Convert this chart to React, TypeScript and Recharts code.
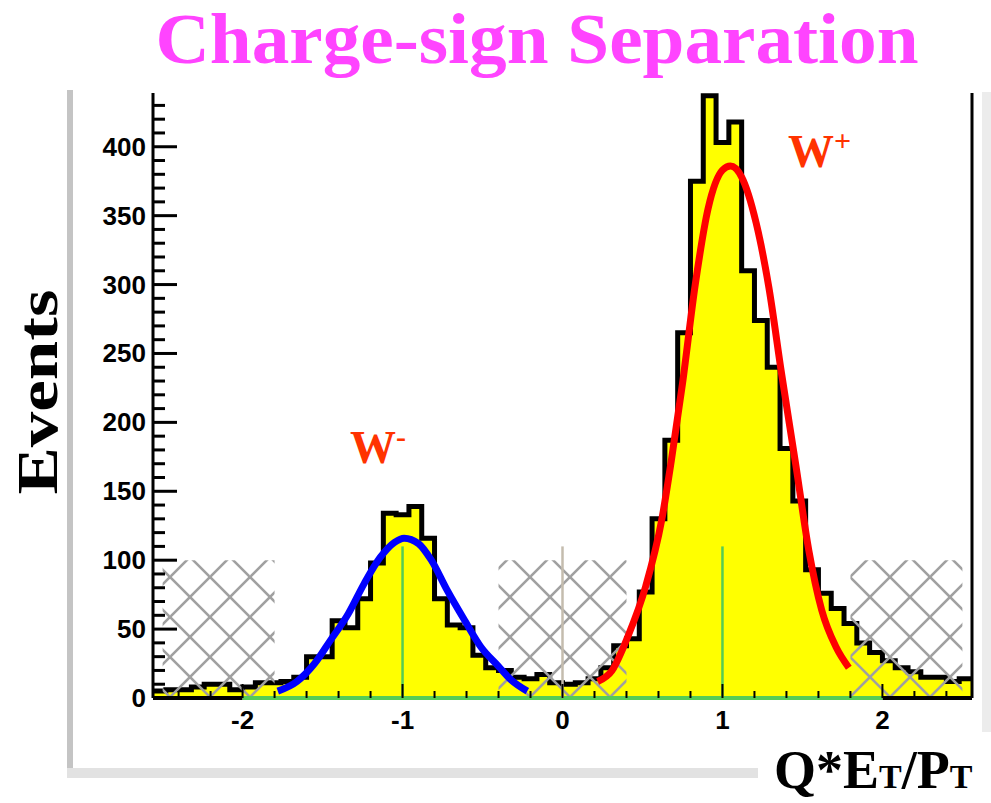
import React from "react"
import { ComposedChart, Area, Line, XAxis, YAxis, ReferenceArea, ReferenceLine } from "recharts"

// histogram: 64 bins of 0.08 starting at -2.56
const binLow = -2.56
const binWidth = 0.08
const counts = [
  5, 6, 6, 8, 10, 10, 6, 8, 11, 11, 12, 15, 30, 30, 56, 51,
  72, 98, 134, 133, 139, 116, 72, 53, 51, 31, 22, 20, 15, 14, 17, 11,
  10, 11, 14, 22, 38, 43, 77, 130, 187, 265, 375, 437, 403, 418, 310, 274,
  240, 181, 143, 93, 76, 65, 54, 40, 33, 27, 22, 19, 15, 15, 12, 14,
]

// gaussian fits, points
const wMinusFitX = [-1.78, -1.66, -1.55, -1.45, -1.34, -1.24, -1.14, -1.05, -0.99, -0.9, -0.82, -0.72, -0.61, -0.51, -0.4, -0.32, -0.22]
const wMinusFitY = [5, 12, 25, 42, 61, 83, 102, 113, 116, 112, 100, 78, 56, 37, 23, 13, 5]
const wPlusFitX = [0.22, 0.31, 0.41, 0.52, 0.62, 0.68, 0.75, 0.83, 0.91, 1.0, 1.05, 1.12, 1.21, 1.29, 1.37, 1.46, 1.54, 1.62, 1.71, 1.79]
const wPlusFitY = [12, 20, 45, 81, 129, 172, 228, 300, 355, 383, 386, 378, 345, 298, 235, 168, 107, 64, 37, 22]

const xTicks = [-2.4, -2.2, -2, -1.8, -1.6, -1.4, -1.2, -1, -0.8, -0.6, -0.4, -0.2, 0, 0.2, 0.4, 0.6, 0.8, 1, 1.2, 1.4, 1.6, 1.8, 2, 2.2, 2.4]
const yTicks = [0, 10, 20, 30, 40, 50, 60, 70, 80, 90, 100, 110, 120, 130, 140, 150, 160, 170, 180, 190, 200, 210, 220, 230, 240, 250, 260, 270, 280, 290, 300, 310, 320, 330, 340, 350, 360, 370, 380, 390, 400, 410, 420, 430]

// excluded (hatched) regions and marker lines
const vetoLow = [-2.5, -0.4, 1.8]
const vetoHigh = [-1.8, 0.4, 2.5]
const vetoTop = 100
const peakMarks = [-1, 1]
const markTop = 110

const histData = counts.map((c, i) => ({ x: +(binLow + i * binWidth).toFixed(2), y: c }))
histData.push({ x: 2.56, y: counts[counts.length - 1] })
const wMinusData = wMinusFitX.map((x, i) => ({ x, y: wMinusFitY[i] }))
const wPlusData = wPlusFitX.map((x, i) => ({ x, y: wPlusFitY[i] }))

const sans = "'Liberation Sans', Arial, sans-serif"
const serif = "'Liberation Serif', 'Times New Roman', serif"

function YTick(props: any) {
  const { x, y, payload } = props
  const v = payload.value
  const major = v % 50 === 0
  return (
    <g>
      <line x1={x} x2={x + (major ? 24 : 12)} y1={y} y2={y} stroke="#000" strokeWidth={3} />
      {major && (
        <text x={x - 7} y={y + 9} textAnchor="end" fontFamily={sans} fontWeight="bold" fontSize={26} fill="#000">
          {v}
        </text>
      )}
    </g>
  )
}

function XTick(props: any) {
  const { x, y, payload } = props
  const v = payload.value
  const major = Number.isInteger(v)
  return (
    <g>
      <line x1={x} x2={x} y1={y} y2={y - (major ? 14 : 7)} stroke="#000" strokeWidth={2} />
      {major && (
        <text x={x} y={y + 31} textAnchor="middle" fontFamily={sans} fontWeight="bold" fontSize={26} fill="#000">
          {v}
        </text>
      )}
    </g>
  )
}

export default function App() {
  return (
    <div style={{ position: "absolute", left: 0, top: 0, width: 991, height: 803, background: "#fff" }}>
      <div style={{ position: "absolute", left: 67, top: 90, width: 6, height: 688, background: "#c4c4c4" }} />
      <div style={{ position: "absolute", left: 67, top: 768, width: 691, height: 10, background: "#e2e2e2" }} />
      <div style={{ position: "absolute", left: 982, top: 92, width: 9, height: 640, background: "#ececec" }} />
      <div style={{ position: "absolute", left: 0, top: 0 }}>
        <ComposedChart width={991} height={803} margin={{ top: 93, right: 19, bottom: 0, left: 0 }}>
          <defs>
            <pattern id="xhatch" patternUnits="userSpaceOnUse" x={10} y={17} width={40} height={40}>
              <line x1={0} y1={0} x2={40} y2={40} stroke="#a0a0a0" strokeWidth={2.6} />
              <line x1={40} y1={0} x2={0} y2={40} stroke="#a0a0a0" strokeWidth={2.6} />
            </pattern>
          </defs>
          <XAxis
            type="number"
            dataKey="x"
            domain={[-2.56, 2.56]}
            ticks={xTicks}
            interval={0}
            height={105}
            tickSize={0}
            tickMargin={0}
            tick={<XTick />}
            axisLine={false}
            allowDataOverflow
          />
          <YAxis
            type="number"
            domain={[0, 439]}
            ticks={yTicks}
            interval={0}
            width={153}
            tickSize={0}
            tickMargin={0}
            tick={<YTick />}
            axisLine={{ stroke: "#000", strokeWidth: 3 }}
            allowDataOverflow
          />
          <Area
            data={histData}
            dataKey="y"
            type="stepAfter"
            stroke="#000"
            strokeWidth={5}
            fill="#ffff00"
            fillOpacity={1}
            isAnimationActive={false}
          />
          {vetoLow.map((lo, i) => (
            <ReferenceArea key={"veto" + i} x1={lo} x2={vetoHigh[i]} y1={0} y2={vetoTop} fill="url(#xhatch)" fillOpacity={1} stroke="none" />
          ))}
          <ReferenceLine segment={[{ x: -2.56, y: 0 }, { x: -2, y: 0 }]} stroke="#000" strokeWidth={4} />
          <ReferenceLine segment={[{ x: 2, y: 0 }, { x: 2.56, y: 0 }]} stroke="#000" strokeWidth={4} />
          <ReferenceLine segment={[{ x: -2, y: 0 }, { x: 2, y: 0 }]} stroke="#55cc55" strokeWidth={4} />
          {peakMarks.map((m) => (
            <ReferenceLine key={"mark" + m} segment={[{ x: m, y: 0 }, { x: m, y: markTop }]} stroke="#55cc55" strokeWidth={2.5} />
          ))}
          <ReferenceLine segment={[{ x: 0, y: 0 }, { x: 0, y: markTop }]} stroke="#c4bcae" strokeWidth={2.5} />
          <ReferenceLine x={2.56} stroke="#000" strokeWidth={3} />
          <Line data={wMinusData} dataKey="y" type="monotone" stroke="#0000ff" strokeWidth={7} dot={false} isAnimationActive={false} />
          <Line data={wPlusData} dataKey="y" type="monotone" stroke="#ff0000" strokeWidth={7} dot={false} isAnimationActive={false} />
        </ComposedChart>
      </div>
      <svg width={991} height={803} style={{ position: "absolute", left: 0, top: 0, pointerEvents: "none" }}>
        <text x={537} y={63} textAnchor="middle" fontFamily={serif} fontWeight="bold" fontSize={72} fill="#ff44ff" textLength={763} lengthAdjust="spacingAndGlyphs">
          Charge-sign Separation
        </text>
        <text transform="translate(57,392) rotate(-90)" textAnchor="middle" fontFamily={serif} fontWeight="bold" fontSize={56} fill="#000" textLength={205} lengthAdjust="spacingAndGlyphs">
          Events
        </text>
        <text x={774} y={788} fontFamily={serif} fontWeight="bold" fontSize={54} fill="#000">
          Q*E<tspan fontSize={34}>T</tspan>/P<tspan fontSize={34}>T</tspan>
        </text>
        <text x={350} y={463} fontFamily={serif} fontWeight="bold" fontSize={46} fill="#ff3300">
          W<tspan fontSize={30} dy={-16}>-</tspan>
        </text>
        <text x={788} y={167} fontFamily={serif} fontWeight="bold" fontSize={46} fill="#ff3300">
          W<tspan fontSize={30} dy={-16}>+</tspan>
        </text>
      </svg>
    </div>
  )
}
